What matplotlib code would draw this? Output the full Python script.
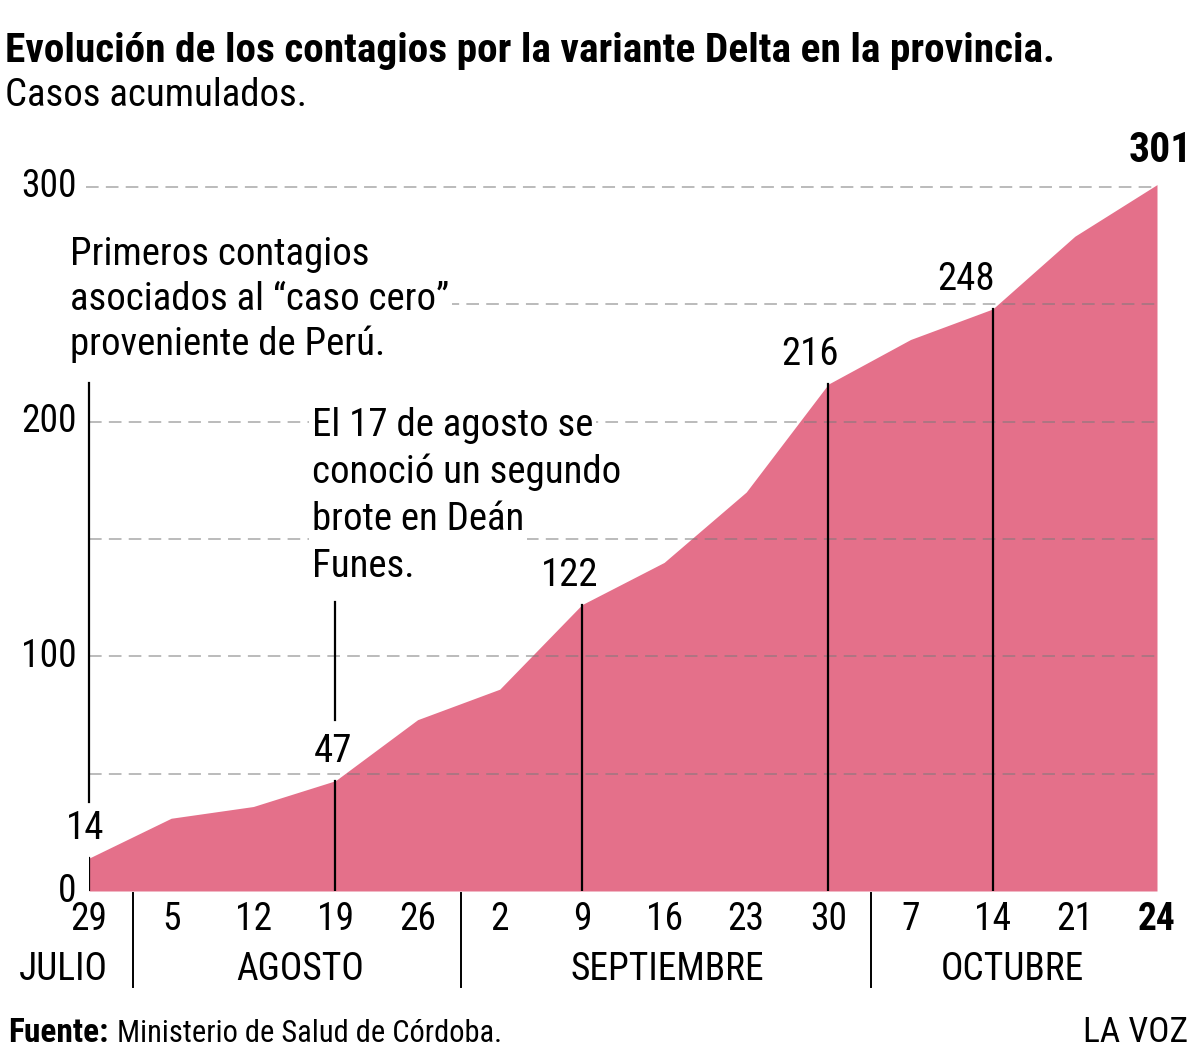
import matplotlib
matplotlib.use("Agg")
import matplotlib.pyplot as plt
from matplotlib import font_manager
import numpy as np

# datos: casos acumulados de variante Delta
fechas = ["29", "5", "12", "19", "26", "2", "9", "16", "23", "30", "7", "14", "21", "24"]
casos = [14, 31, 36, 47, 73, 86, 122, 140, 170, 216, 235, 248, 279, 301]
meses = ["JULIO", "AGOSTO", "SEPTIEMBRE", "OCTUBRE"]
marcados = [0, 3, 6, 9, 11]          # puntos con línea vertical y rótulo
yticks = [0, 100, 200, 300]
grid_y = [50, 100, 150, 200, 250, 300]

# fuente angosta si existe
fam = "DejaVu Sans"
for f in ["Liberation Sans Narrow", "Roboto Condensed", "Open Sans Condensed"]:
    try:
        font_manager.findfont(f, fallback_to_default=False)
        fam = f
        break
    except Exception:
        pass
plt.rcParams["font.family"] = [fam, "DejaVu Sans"]

W, H = 1200, 1053
fig = plt.figure(figsize=(W / 100, H / 100), dpi=100)

def fx(px):
    return px / W

def fy(py):
    return 1 - py / H

ax = fig.add_axes([fx(89), fy(891), fx(1157) - fx(89), fy(184.6) - fy(891)])
ax.set_xlim(0, 13)
ax.set_ylim(0, 301)
ax.axis("off")

x = np.arange(len(casos))
rosa = "#e4708a"
ax.fill_between(x, casos, 0, color=rosa, lw=0, zorder=1)

# grilla punteada
for g in grid_y:
    ax.plot([-0.04 if g == 300 else 0, 13], [g, g], ls=(0, (7, 4)), color="#7a7a7a",
            alpha=0.55, lw=1.3, zorder=2, clip_on=False)

# lineas verticales en puntos marcados
for i in marcados:
    ax.plot([x[i], x[i]], [0, casos[i]], color="black", lw=1.6, zorder=3)

# lineas de anotaciones
ax.plot([0, 0], [37.9, 216.5], color="black", lw=1.6, zorder=3, clip_on=False)
ax.plot([3, 3], [72.9, 123.2], color="black", lw=1.6, zorder=3)

# rotulos de valores
dx_lab = [-0.05, -0.03, -0.15, -0.22, -0.32]
for i, d in zip(marcados, dx_lab):
    ax.annotate(str(casos[i]), (x[i] + d, casos[i]), xytext=(0, 8), textcoords="offset points",
                ha="center", va="bottom", fontsize=28, zorder=5, annotation_clip=False)
ax.annotate(str(casos[-1]), (x[-1], casos[-1]), xytext=(25, 10), textcoords="offset points",
            ha="right", va="bottom", fontsize=30, fontweight="bold", zorder=5,
            annotation_clip=False)

# eje y
for t in yticks:
    ax.text(-0.15, t, str(t), ha="right", va="center", fontsize=27, clip_on=False)

# eje x
for i, lab in enumerate(fechas):
    ax.text(x[i], -12, lab, ha="center", va="center", fontsize=27,
            fontweight="bold" if i == len(fechas) - 1 else "normal", clip_on=False)

# separadores de meses
for p in [133, 461, 871]:
    fig.add_artist(plt.Line2D([fx(p), fx(p)], [fy(893), fy(987)], color="black", lw=1.4))
for m, p in zip(meses, [63, 300, 667, 1012]):
    fig.text(fx(p), fy(970), m, ha="center", va="center", fontsize=27)

# anotaciones
anot1 = ["Primeros contagios", "asociados al “caso cero”", "proveniente de Perú."]
for k, linea in enumerate(anot1):
    fig.text(fx(70), fy(265 + 45 * k), linea, ha="left", va="baseline", fontsize=28,
             bbox=dict(facecolor="white", edgecolor="none", pad=2), zorder=6)
anot2 = ["El 17 de agosto se", "conoció un segundo", "brote en Deán", "Funes."]
for k, linea in enumerate(anot2):
    fig.text(fx(312), fy(436 + 47 * k), linea, ha="left", va="baseline", fontsize=28,
             bbox=dict(facecolor="white", edgecolor="none", pad=2), zorder=6)

# titulo
fig.text(fx(5), fy(62), "Evolución de los contagios por la variante Delta en la provincia.",
         fontsize=29.8, fontweight="bold", va="baseline")
fig.text(fx(5), fy(106), "Casos acumulados.", fontsize=28, va="baseline")

# pie
fig.text(fx(8), fy(1042), "Fuente:", fontsize=24, fontweight="bold", va="baseline")
fig.text(fx(117), fy(1042), "Ministerio de Salud de Córdoba.", fontsize=22, va="baseline")
fig.text(fx(1188), fy(1042), "LA VOZ", fontsize=25.5, ha="right", va="baseline")

fig.savefig("out.png", dpi=100)
